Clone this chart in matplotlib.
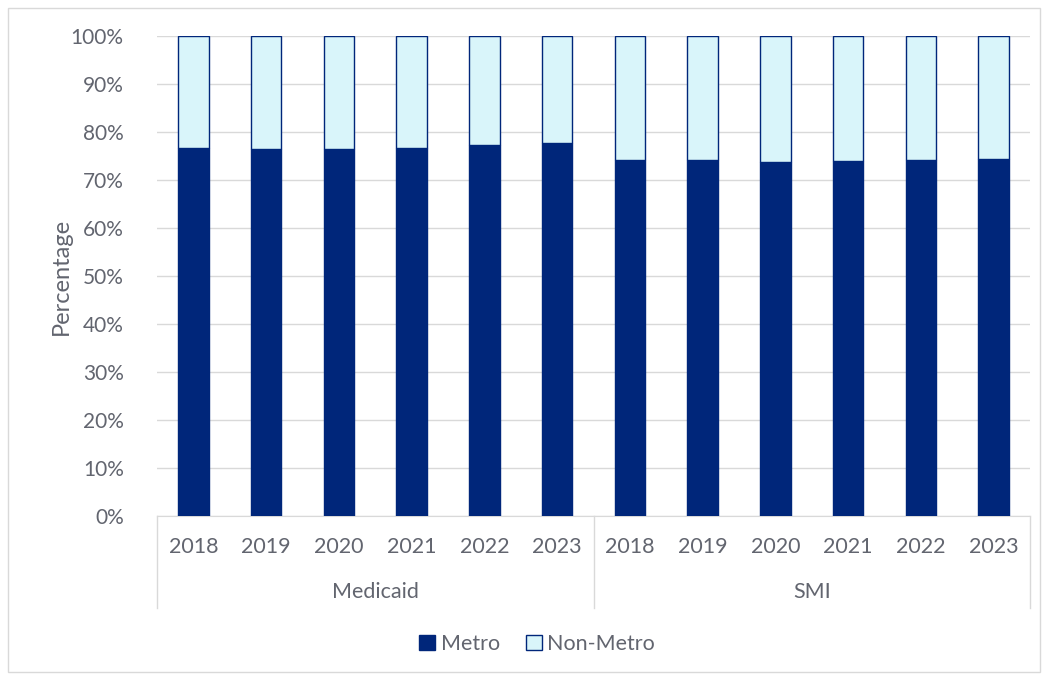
import matplotlib.pyplot as plt
from matplotlib.patches import Patch, Rectangle
from matplotlib.lines import Line2D

# Share of beneficiaries by area type, per program and year (%)
groups = ['Medicaid', 'SMI']
years = ['2018', '2019', '2020', '2021', '2022', '2023']
metro = [76.7, 76.5, 76.4, 76.7, 77.2, 77.7,
         74.2, 74.2, 73.8, 74.0, 74.1, 74.4]
non_metro = [23.3, 23.5, 23.6, 23.3, 22.8, 22.3,
             25.8, 25.8, 26.2, 26.0, 25.9, 25.6]

navy = '#00267A'
light = '#D9F5FA'
txt = '#62656F'

plt.rcParams['font.family'] = ['Lato', 'DejaVu Sans']

fig = plt.figure(figsize=(10.47, 6.79), dpi=100)
ax = fig.add_axes([157/1047, 1 - 516/679, (1030 - 157)/1047, 480/679])

x = list(range(len(metro)))
ax.bar(x, metro, width=0.42, color=navy, edgecolor=navy, linewidth=1, zorder=3)
ax.bar(x, non_metro, width=0.42, bottom=metro, color=light, edgecolor=navy,
       linewidth=1, zorder=3)

ax.set_xlim(-0.5, len(metro) - 0.5)
ax.set_ylim(0, 100)
ax.set_yticks(range(0, 101, 10))
ax.set_yticklabels([f'{v}%' for v in range(0, 101, 10)])
ax.yaxis.grid(True, color='#D9D9D9', linewidth=1, zorder=0)
ax.tick_params(axis='y', length=0, pad=24, labelsize=15, labelcolor=txt)
ax.set_xticks([])
for s in ['top', 'right', 'left']:
    ax.spines[s].set_visible(False)
ax.spines['bottom'].set_color('#D9D9D9')

ax.set_ylabel('Percentage', fontsize=17, color=txt)
ax.yaxis.set_label_coords(-0.098, 0.5)

# two-level category axis
tr = ax.get_xaxis_transform()
for i in x:
    ax.text(i, -0.065, years[i % len(years)], transform=tr, ha='center',
            va='center', fontsize=15.5, color=txt)
for g, name in enumerate(groups):
    mid = g * len(years) + (len(years) - 1) / 2
    ax.text(mid, -0.158, name, transform=tr, ha='center', va='center',
            fontsize=15.5, color=txt)
for xs in [-0.5, 5.5, 11.5]:
    ax.add_line(Line2D([xs, xs], [0, -0.192], transform=tr, color='#D9D9D9',
                       linewidth=1, clip_on=False))

handles = [Patch(facecolor=navy, edgecolor=navy, label='Metro'),
           Patch(facecolor=light, edgecolor=navy, label='Non-Metro')]
leg = fig.legend(handles=handles, loc='center', ncol=2, frameon=False,
                 bbox_to_anchor=(537/1047, 1 - 644/679), fontsize=15.5,
                 handlelength=0.75, handleheight=0.75, handletextpad=0.25,
                 columnspacing=1.2)
for t in leg.get_texts():
    t.set_color(txt)

# chart border
fig.patches.append(Rectangle((8/1047, 1 - 672/679), 1032/1047, 664/679,
                             transform=fig.transFigure, fill=False,
                             edgecolor='#D9D9D9', linewidth=1))

fig.savefig('out.png', dpi=100)
